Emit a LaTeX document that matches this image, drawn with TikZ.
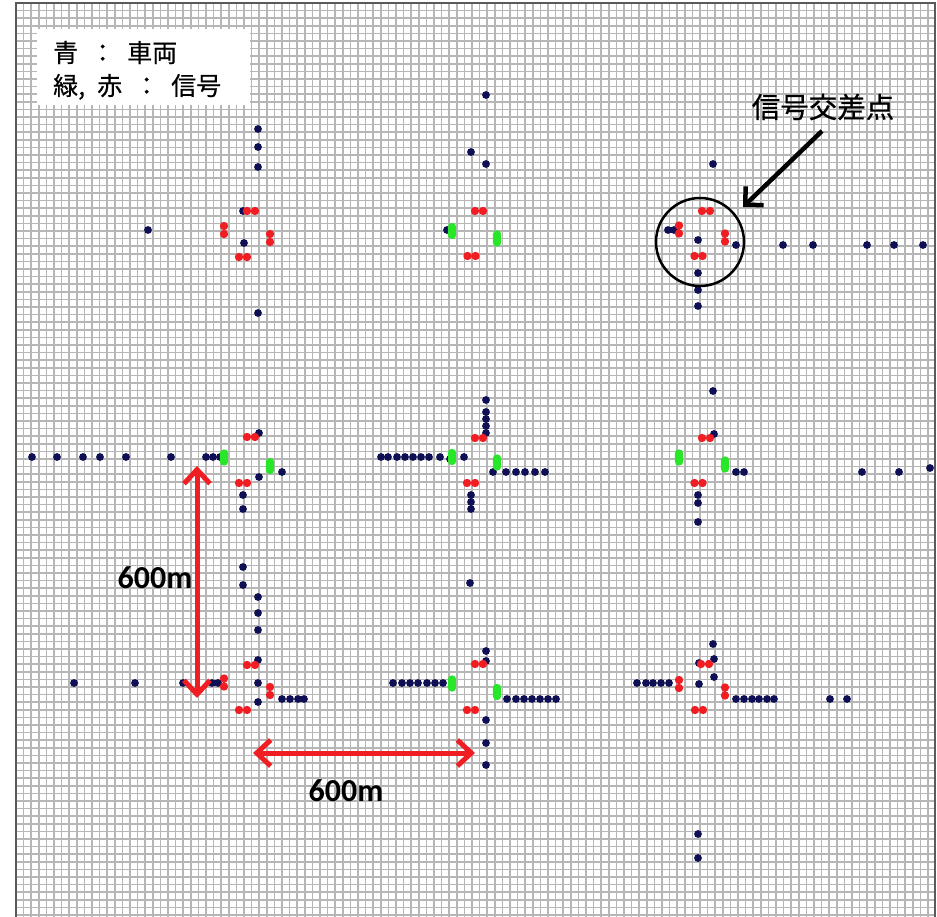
\documentclass[tikz,border=0pt]{standalone}
\usepackage{fontspec}
\newfontfamily\jpfont{Noto Sans CJK JP}
\newfontfamily\jpmed[FakeBold=0.6]{Noto Sans CJK JP}
\newfontfamily\calfont{Carlito}
\usetikzlibrary{arrows.meta}
\definecolor{veh}{RGB}{15,15,85}
\definecolor{sigr}{RGB}{240,30,35}
\definecolor{sigg}{RGB}{40,230,40}
\definecolor{gridc}{RGB}{182,182,182}
\definecolor{framec}{RGB}{90,90,90}
\newcommand\redH[2]{\fill[sigr] (#1-4,#2) circle[radius=4.2pt] (#1+4,#2) circle[radius=4.2pt];}
\newcommand\redV[2]{\fill[sigr] (#1,#2-4) circle[radius=4.2pt] (#1,#2+4) circle[radius=4.2pt];}
\newcommand\grnV[2]{\fill[sigg] (#1,#2-4) circle[radius=4.2pt] (#1,#2+4) circle[radius=4.2pt] (#1-4.2,#2-4) rectangle (#1+4.2,#2+4);}
\tikzset{
  dimarrow/.style={draw=sigr, line width=5pt,
    {Straight Barb[length=14pt,width=26pt]}-{Straight Barb[length=14pt,width=26pt]}},
  callout/.style={draw=black, line width=4.5pt, -{Straight Barb[length=13pt,width=26pt]}},
  dimlabel/.style={font=\calfont\bfseries\fontsize{32}{36}\selectfont, inner sep=0pt},
  jplabel/.style={font=\jpmed\fontsize{25}{28}\selectfont, inner sep=0pt, anchor=base west}
}
\begin{document}
\begin{tikzpicture}[x=1pt,y=-1pt]
\useasboundingbox (0,0) rectangle (937,917);
\fill[white] (0,0) rectangle (937,917);
% grid
\begin{scope}
\clip (16,3) rectangle (935,917);
\foreach \i in {0,...,121} {\draw[gridc, line width=1.6pt] (16+\i*7.6,3) -- (16+\i*7.6,917);}
\foreach \i in {0,...,120} {\draw[gridc, line width=1.6pt] (16,3+\i*7.6) -- (935,3+\i*7.6);}
\end{scope}
\draw[framec, line width=1.6pt] (16,930) -- (16,3) -- (935,3) -- (935,930);
% legend
\node (legend) [fill=white, inner sep=0pt, minimum width=213pt, minimum height=76pt, anchor=north west] at (37,29) {};
\node (leg1) [jplabel] at (53,62) {青\hspace{12pt}：\hspace{12pt}車両};
\node (leg2) [jplabel] at (53,95) {緑\makebox[7pt][l]{,}\hspace{12pt}赤\hspace{12pt}：\hspace{12pt}信号};
% vehicles
\foreach \p in {(258,129),(258,147),(258,167),(243,211),(244,243),(148,230),(258,313),
  (486,95),(471,152),(486,164),(447,230),
  (713,164),(668,230),(674,230),(698,240),(736,245),(698,273),(698,290),(698,306),(783,245),(813,245),(867,245),(894,245),(923,245),
  (32,457),(57,457),(83,457),(100,457),(126,457),(171,457),(206,457),(213,457),(220,457),(259,433),(282,472),(259,477),(243,495),(243,509),
  (486,400),(486,412),(486,419),(486,426),(486,433),(381,457),(388,457),(397,457),(405,457),(413,457),(421,457),(429,457),(440,457),(450,459),(464,457),(493,472),(506,472),(516,472),(525,472),(535,472),(545,472),(471,495),(471,502),(471,509),
  (713,391),(714,434),(736,472),(744,472),(698,495),(698,503),(698,522),(862,472),(899,472),(930,468),
  (243,567),(243,585),(258,597),(258,613),(258,630),(258,660),(258,683),(258,702),(74,683),(135,683),(183,683),(212,683),(218,683),(282,699),(290,699),(298,699),(304,699),
  (470,583),(486,651),(486,661),(393,683),(402,683),(410,683),(418,683),(427,683),(435,683),(443,683),(507,699),(516,699),(524,699),(532,699),(540,699),(548,699),(556,699),(486,720),(486,743),(486,765),
  (713,644),(714,659),(699,663),(637,683),(646,683),(653,683),(661,683),(669,683),(699,684),(714,677),(736,699),(744,699),(752,699),(759,699),(767,699),(774,699),(830,699),(847,699),(698,834),(698,858)}
  {\fill[veh] \p circle[radius=3.9pt];}
% signals
\redH{251}{211} \redV{224}{230} \redV{270}{238} \redH{243}{257}
\redH{479}{211} \grnV{452}{231} \grnV{497}{238.5} \redH{471.5}{256}
\redH{706}{211} \redV{679}{229.5} \redV{725}{237.5} \redH{698.5}{256}
\redH{251}{437} \grnV{224}{457.5} \grnV{270}{466} \redH{243}{483}
\redH{479}{438} \grnV{452}{457} \grnV{497}{462.5} \redH{471}{483}
\redH{706}{438} \grnV{679}{457.5} \grnV{725}{464.5} \redH{698.5}{483}
\redH{251}{665} \redV{224}{682.5} \redV{270}{691} \redH{243}{710}
\redH{479}{664} \grnV{452}{683.5} \grnV{497}{692} \redH{471}{710}
\redH{705}{664} \redV{679}{684} \redV{725}{691.5} \redH{699}{710}
% signalised intersection callout
\node (focus) [circle, draw=black, line width=2.5pt, minimum size=88pt, inner sep=0pt] at (700,242) {};
\node (calllabel) [font=\jpmed\fontsize{28.5}{32}\selectfont, inner sep=0pt] at (823,107) {信号交差点};
\coordinate (calltail) at (822,131);
\coordinate (calltip) at (743,207);
\draw[callout] (calltail) -- (calltip);
% dimensions
\coordinate (vtop) at (197,466);
\coordinate (vbot) at (197,698);
\draw[dimarrow] (vtop) -- (vbot);
\node (vlabel) [dimlabel] at (155,578) {600m};
\coordinate (hleft) at (253,753);
\coordinate (hright) at (475,753);
\draw[dimarrow] (hleft) -- (hright);
\node (hlabel) [dimlabel] at (346,791) {600m};
\end{tikzpicture}
\end{document}
